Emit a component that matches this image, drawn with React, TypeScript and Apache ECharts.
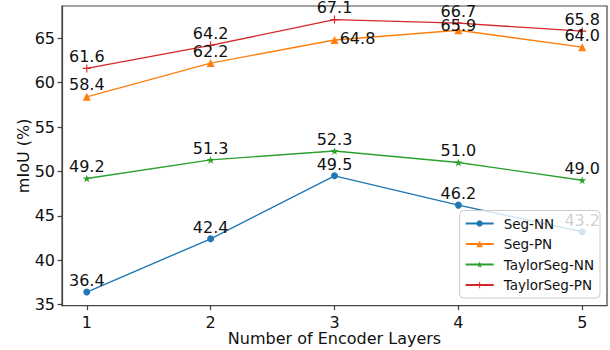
import React, { useEffect, useRef } from "react";
import * as echarts from "echarts";

const layers = [1, 2, 3, 4, 5];
const segNN = [36.4, 42.4, 49.5, 46.2, 43.2];
const segPN = [58.4, 62.2, 64.8, 65.9, 64.0];
const taylorNN = [49.2, 51.3, 52.3, 51.0, 49.0];
const taylorPN = [61.6, 64.2, 67.1, 66.7, 65.8];
const seriesNames = ["Seg-NN", "Seg-PN", "TaylorSeg-NN", "TaylorSeg-PN"];
const xTicks = [1, 2, 3, 4, 5];
const yTicks = [35, 40, 45, 50, 55, 60, 65];

const FONT = "DejaVu Sans";
const STAR =
  "path://M0,-10 L2.35,-3.24 L9.51,-3.09 L3.8,1.24 L5.88,8.09 L0,4 L-5.88,8.09 L-3.8,1.24 L-9.51,-3.09 L-2.35,-3.24 Z";
const PLUS =
  "path://M-1.4,-10 L1.4,-10 L1.4,-1.4 L10,-1.4 L10,1.4 L1.4,1.4 L1.4,10 L-1.4,10 L-1.4,1.4 L-10,1.4 L-10,-1.4 L-1.4,-1.4 Z";

export default function App() {
  const ref = useRef<HTMLDivElement>(null);
  useEffect(() => {
    if (!ref.current) return;
    const chart = echarts.init(ref.current, undefined, { renderer: "svg" });
    const all = [...segNN, ...segPN, ...taylorNN, ...taylorPN];
    const dmin = Math.min(...all);
    const dmax = Math.max(...all);
    const pad = (dmax - dmin) * 0.05;
    const xpad = (layers[layers.length - 1] - layers[0]) * 0.05;

    const styles = [
      { color: "#1f77b4", symbol: "circle", size: 7 },
      { color: "#ff7f0e", symbol: "triangle", size: 8 },
      { color: "#2ca02c", symbol: STAR, size: 8 },
      { color: "#d62728", symbol: PLUS, size: 8 },
    ];
    const offsets: Record<string, [number, number]> = {
      "1-2": [23, 10],
      "1-3": [0, 7],
    };
    const values = [segNN, segPN, taylorNN, taylorPN];

    const series = values.map((vals, si) => ({
      name: seriesNames[si],
      type: "line",
      symbol: styles[si].symbol,
      symbolSize: styles[si].size,
      symbolKeepAspect: true,
      color: styles[si].color,
      lineStyle: { width: 1.4, color: styles[si].color },
      itemStyle: { color: styles[si].color },
      label: {
        show: true,
        position: "top",
        distance: 0,
        fontFamily: FONT,
        fontSize: 16,
        color: "#111",
        formatter: (p: any) => Number(p.value[1]).toFixed(1),
      },
      data: vals.map((v, i) => {
        const off = offsets[`${si}-${i}`];
        const item: any = { value: [layers[i], v] };
        if (off) item.label = { offset: off };
        return item;
      }),
      z: 2,
    }));

    chart.setOption({
      animation: false,
      textStyle: { fontFamily: FONT },
      grid: {
        left: 62,
        top: 6,
        right: 3,
        bottom: 44.3,
        outerBoundsMode: "none",
        containLabel: false,
        show: true,
        borderColor: "#444",
        borderWidth: 1.2,
        backgroundColor: "transparent",
      },
      xAxis: {
        type: "value",
        min: layers[0] - xpad,
        max: layers[layers.length - 1] + xpad,
        name: "Number of Encoder Layers",
        nameLocation: "middle",
        nameGap: 24.5,
        nameMoveOverlap: false,
        nameTextStyle: { fontSize: 16, color: "#111", fontFamily: FONT },
        axisLine: { show: true, lineStyle: { color: "#444", width: 1.2 } },
        axisTick: {
          show: true,
          length: 4.5,
          customValues: xTicks,
          lineStyle: { color: "#444", width: 1.2 },
        },
        axisLabel: {
          customValues: xTicks,
          fontSize: 16,
          color: "#111",
          margin: 8.5,
          fontFamily: FONT,
        },
        splitLine: { show: false },
      },
      yAxis: {
        type: "value",
        min: dmin - pad,
        max: dmax + pad,
        name: "mIoU (%)",
        nameLocation: "middle",
        nameGap: 31,
        nameMoveOverlap: false,
        nameTextStyle: { fontSize: 16, color: "#111", fontFamily: FONT },
        axisLine: { show: true, lineStyle: { color: "#444", width: 1.2 } },
        axisTick: {
          show: true,
          length: 4.5,
          customValues: yTicks,
          lineStyle: { color: "#444", width: 1.2 },
        },
        axisLabel: {
          customValues: yTicks,
          fontSize: 16,
          color: "#111",
          margin: 7,
          fontFamily: FONT,
        },
        splitLine: { show: false },
      },
      legend: {
        orient: "vertical",
        right: 10,
        bottom: 52,
        itemWidth: 28,
        itemHeight: 8,
        itemGap: 6.5,
        padding: [6, 6, 6, 5],
        backgroundColor: "rgba(255,255,255,0.8)",
        borderColor: "#ccc",
        borderWidth: 1,
        borderRadius: 4,
        textStyle: { fontSize: 13.5, color: "#111", fontFamily: FONT, padding: [0, 0, 0, 5] },
        z: 10,
        data: seriesNames,
      },
      series,
    });
    return () => chart.dispose();
  }, []);
  return (
    <div
      ref={ref}
      style={{ position: "fixed", left: 0, top: 0, width: 610, height: 350, background: "#fff" }}
    />
  );
}
